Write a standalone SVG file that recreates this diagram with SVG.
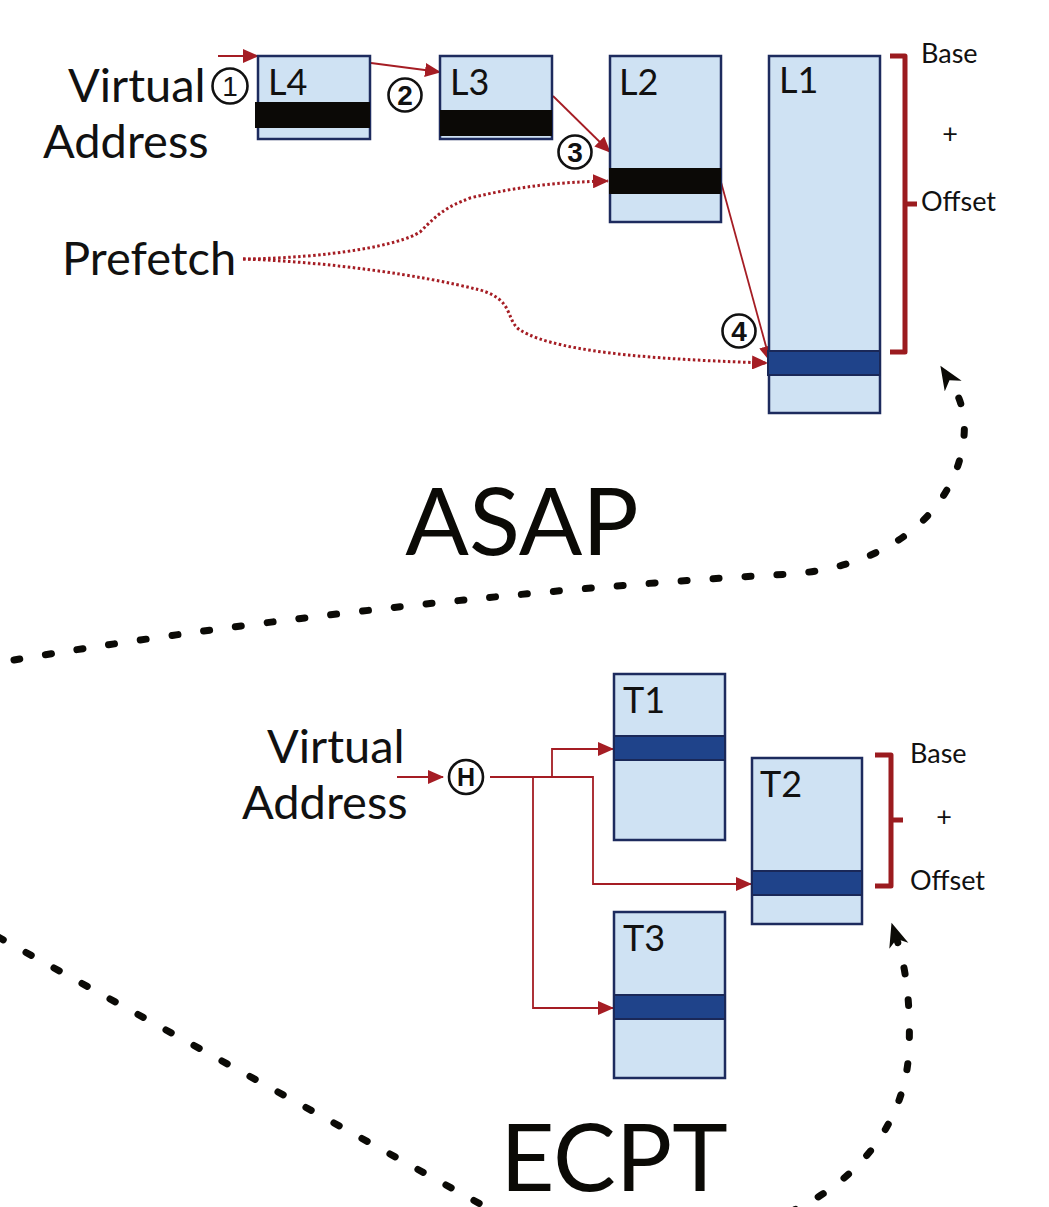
<svg xmlns="http://www.w3.org/2000/svg" width="1049" height="1207" viewBox="0 0 1049 1207">
<defs>
<style>
.box{fill:#cfe2f3;stroke:#1d2b5e;stroke-width:2.5}
.blk{fill:#0b0906;stroke:none}
.blue{fill:#1f438a;stroke:#1a2858;stroke-width:2}
.lbl{font-family:Lato,"Liberation Sans",sans-serif;font-size:36px;fill:#111}
.big{font-family:Lato,"Liberation Sans",sans-serif;font-size:47px;fill:#111}
.title{font-family:Lato,"Liberation Sans",sans-serif;font-size:94px;fill:#0b0a06;text-anchor:middle}
.sm{font-family:Lato,"Liberation Sans",sans-serif;font-size:27px;fill:#111}
.num{font-family:"Liberation Sans",sans-serif;font-size:28px;font-weight:bold;fill:#111;text-anchor:middle}
.circ{fill:none;stroke:#111;stroke-width:2.6}
.red{fill:none;stroke:#a51d24;stroke-width:1.8}
.dot{fill:none;stroke:#a51d24;stroke-width:3;stroke-dasharray:2.5 2.5}
.brk{fill:none;stroke:#9b1b1f;stroke-width:5;stroke-linejoin:round}
.dash{fill:none;stroke:#0b0a06;stroke-width:7;stroke-linecap:round;stroke-dasharray:6 26}
</style>
<marker id="ra" markerUnits="userSpaceOnUse" markerWidth="16" markerHeight="14" refX="15" refY="7" orient="auto">
<path d="M0,0 L16,7 L0,14 Z" fill="#a51d24"/>
</marker>
<marker id="ba" markerUnits="userSpaceOnUse" markerWidth="26" markerHeight="22" refX="6" refY="10" orient="auto">
<path d="M24,10 L0,0 L7,10 L0,20 Z" fill="#0b0a06"/>
</marker>
</defs>
<rect width="1049" height="1207" fill="#fff"/>

<g id="connectors">
<line class="red" x1="218" y1="56" x2="258" y2="56" marker-end="url(#ra)"/>
<line class="red" x1="371" y1="63" x2="440" y2="72" marker-end="url(#ra)"/>
<line class="red" x1="553" y1="96" x2="610" y2="152" marker-end="url(#ra)"/>
<line class="red" x1="721" y1="182" x2="770" y2="361" marker-end="url(#ra)"/>
<path class="dot" d="M243,259 C330,258 400,245 420,232 C440,212 445,208 470,198 C520,186 560,182 608,181" marker-end="url(#ra)"/>
<path class="dot" d="M243,259 C330,262 420,275 480,290 C515,300 505,320 520,330 C560,355 680,360 767,363" marker-end="url(#ra)"/>
<path class="brk" d="M890,56 L905,56 L905,352 L890,352 M905,204 L917,204"/>

<line class="red" x1="397" y1="777" x2="443" y2="777" marker-end="url(#ra)"/>
<path class="red" d="M490,777 L593,777 L593,884 L751,884" marker-end="url(#ra)"/>
<path class="red" d="M552,777 L552,749 L613,749" marker-end="url(#ra)"/>
<path class="red" d="M533,777 L533,1008 L613,1008" marker-end="url(#ra)"/>
<path class="brk" d="M875,755 L891,755 L891,886 L875,886 M891,820 L903,820"/>

<path class="dash" d="M14,660 C200,628 500,590 790,574 C880,568 948,520 962,450 C968,420 962,400 950,381" marker-end="url(#ba)"/>
<path class="dash" d="M-2,937 L482,1205"/>
<path class="dash" d="M790,1212 C850,1185 905,1130 909,1050 C911,1000 905,965 897,940" marker-end="url(#ba)"/>
</g>

<g id="L4">
<rect class="box" x="258" y="56" width="112" height="83"/>
<rect class="blk" x="255" y="102" width="115" height="26"/>
<text class="lbl" x="268" y="95">L4</text>
</g>
<g id="L3">
<rect class="box" x="440" y="56" width="112" height="83"/>
<rect class="blk" x="440" y="110" width="112" height="26"/>
<text class="lbl" x="450" y="95">L3</text>
</g>
<g id="L2">
<rect class="box" x="610" y="56" width="111" height="166"/>
<rect class="blk" x="609" y="168" width="112" height="26"/>
<text class="lbl" x="619" y="95">L2</text>
</g>
<g id="L1">
<rect class="box" x="769" y="56" width="111" height="357"/>
<rect class="blue" x="768" y="351" width="112" height="24"/>
<text class="lbl" x="779" y="93">L1</text>
</g>

<g id="va1">
<text class="big" x="68" y="102">Virtual</text>
<text class="big" x="43" y="158">Address</text>
</g>
<g id="prefetch">
<text class="big" x="62" y="275">Prefetch</text>
</g>
<g id="n1"><circle class="circ" cx="230" cy="86" r="17.5"/><text class="num" x="230" y="96" style="font-weight:normal">1</text></g>
<g id="n2"><circle class="circ" cx="405" cy="95" r="16.5"/><text class="num" x="405" y="105">2</text></g>
<g id="n3"><circle class="circ" cx="575" cy="152" r="16.5"/><text class="num" x="575" y="162">3</text></g>
<g id="n4"><circle class="circ" cx="739" cy="331" r="16.5"/><text class="num" x="739" y="341">4</text></g>
<g id="bo1">
<text class="sm" x="921" y="63">Base</text>
<text class="sm" x="950" y="143" text-anchor="middle">+</text>
<text class="sm" x="921" y="211">Offset</text>
</g>
<g id="asap"><text class="title" x="522" y="555">ASAP</text></g>

<g id="T1">
<rect class="box" x="614" y="674" width="111" height="166"/>
<rect class="blue" x="614" y="736" width="111" height="24"/>
<text class="lbl" x="623" y="713">T1</text>
</g>
<g id="T2">
<rect class="box" x="752" y="758" width="110" height="166"/>
<rect class="blue" x="752" y="871" width="110" height="24"/>
<text class="lbl" x="760" y="797">T2</text>
</g>
<g id="T3">
<rect class="box" x="614" y="912" width="111" height="166"/>
<rect class="blue" x="614" y="995" width="111" height="24"/>
<text class="lbl" x="623" y="951">T3</text>
</g>
<g id="va2">
<text class="big" x="267" y="763">Virtual</text>
<text class="big" x="242" y="819">Address</text>
</g>
<g id="hash"><circle class="circ" cx="466" cy="777" r="17"/><text class="num" x="466" y="786" style="font-size:25px">H</text></g>
<g id="bo2">
<text class="sm" x="910" y="763">Base</text>
<text class="sm" x="944" y="826" text-anchor="middle">+</text>
<text class="sm" x="910" y="890">Offset</text>
</g>
<g id="ecpt"><text class="title" x="614" y="1191">ECPT</text></g>
</svg>
